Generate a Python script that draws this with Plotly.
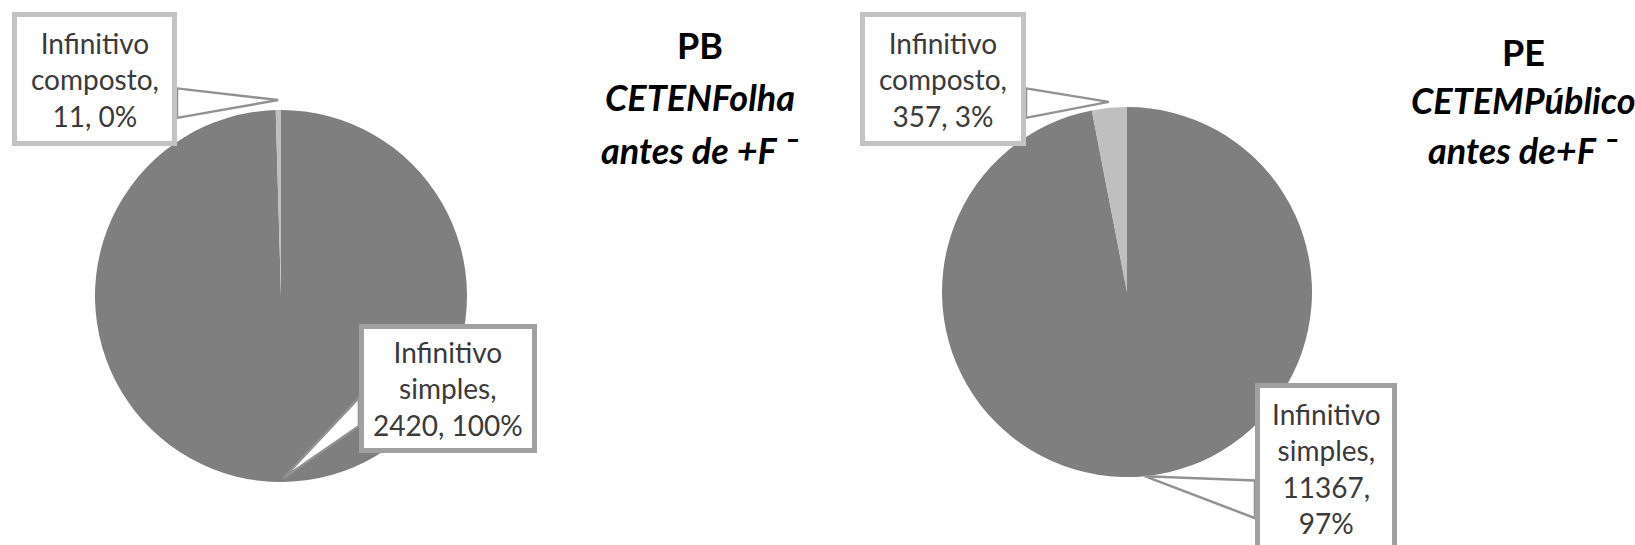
import math
import plotly.graph_objects as go

W, H = 1635, 545

# ---------------- data ----------------
categories = ["Infinitivo simples", "Infinitivo composto"]
pb_values = [2420, 11]
pe_values = [11367, 357]
slice_colors = ["#7f7f7f", "#bfbfbf"]

pb_title = ["PB", "CETENFolha", "antes de +F ¯"]
pe_title = ["PE", "CETEMPúblico", "antes de+F ¯"]

# ---------------- layout helpers (pixel -> paper) ----------------
def px(x):
    return x / W


def py(y):
    return 1 - y / H


FONT = "Lato, 'Open Sans', sans-serif"

pies = [
    dict(values=pb_values, cx=281, cy=296, r=186,
         title=pb_title, tx=700, ty=[45, 97, 150],
         callouts={
             0: dict(box=(359, 324, 178, 129), side="left", off=-4, color="#a0a0a0", split=False),
             1: dict(box=(12, 12, 165, 134), side="right", off=10, color="#c3c3c3", split=False),
         }),
    dict(values=pe_values, cx=1127, cy=292, r=185,
         title=pe_title, tx=1523, ty=[52, 100, 150],
         callouts={
             0: dict(box=(1255, 383, 142, 171), side="left", off=0, color="#a0a0a0", split=True),
             1: dict(box=(860, 12, 166, 134), side="right", off=6, color="#c3c3c3", split=False),
         }),
]


def label_text(cat, v, pct, split):
    words = cat.split()
    lines = [words[0], words[1] + ","]
    if split:
        lines += [f"{v},", f"{pct}%"]
    else:
        lines.append(f"{v}, {pct}%")
    return "<br>".join(lines)


fig = go.Figure()
shapes = []
annotations = []

for p in pies:
    vals = p["values"]
    cx, cy, r = p["cx"], p["cy"], p["r"]
    fig.add_trace(go.Pie(
        labels=categories, values=vals,
        marker=dict(colors=slice_colors, line=dict(width=0)),
        sort=False, direction="clockwise", rotation=0,
        textinfo="none", hoverinfo="label+value+percent", showlegend=False,
        domain=dict(x=[px(cx - r), px(cx + r)], y=[py(cy + r), py(cy - r)]),
    ))
    total = sum(vals)
    cum = 0
    for i, v in enumerate(vals):
        start = cum / total * 360
        cum += v
        end = cum / total * 360
        mid = math.radians((start + end) / 2)
        c = p["callouts"][i]
        rr = r + c["off"]
        tipx = cx + rr * math.sin(mid)
        tipy = cy - rr * math.cos(mid)
        bx, by, bw, bh = c["box"]
        ex = bx + bw if c["side"] == "right" else bx
        b1 = by + 0.57 * bh
        b2 = by + 0.79 * bh
        path = (f"M {px(ex)},{py(b1)} L {px(tipx)},{py(tipy)} "
                f"L {px(ex)},{py(b2)} Z")
        shapes.append(dict(type="path", xref="paper", yref="paper", path=path,
                           fillcolor="white", line=dict(color="#929292", width=2.5),
                           layer="above"))
        lw = 5
        shapes.append(dict(type="rect", xref="paper", yref="paper",
                           x0=px(bx + lw / 2), x1=px(bx + bw - lw / 2),
                           y0=py(by + bh - lw / 2), y1=py(by + lw / 2),
                           fillcolor="white", line=dict(color=c["color"], width=lw),
                           layer="above"))
        pct = round(100 * v / total)
        annotations.append(dict(
            text=label_text(categories[i], v, pct, c["split"]),
            xref="paper", yref="paper", x=px(bx + bw / 2), y=py(by + bh / 2),
            xanchor="center", yanchor="middle", align="center", showarrow=False,
            font=dict(family=FONT, size=28, color="#3a3a3a"),
        ))
    t = p["title"]
    styled = [f"<b>{t[0]}</b>", f"<b><i>{t[1]}</i></b>", f"<b><i>{t[2]}</i></b>"]
    for s, yy in zip(styled, p["ty"]):
        annotations.append(dict(
            text=s, xref="paper", yref="paper", x=px(p["tx"]), y=py(yy),
            xanchor="center", yanchor="middle", showarrow=False,
            font=dict(family=FONT, size=36, color="#000000"),
        ))

fig.update_layout(
    width=W, height=H,
    margin=dict(l=0, r=0, t=0, b=0),
    paper_bgcolor="white", plot_bgcolor="white",
    shapes=shapes, annotations=annotations,
)

fig.write_html("out.html",
               config={"displayModeBar": False},
               post_script="document.body.style.margin='0';document.body.style.overflow='hidden';")
